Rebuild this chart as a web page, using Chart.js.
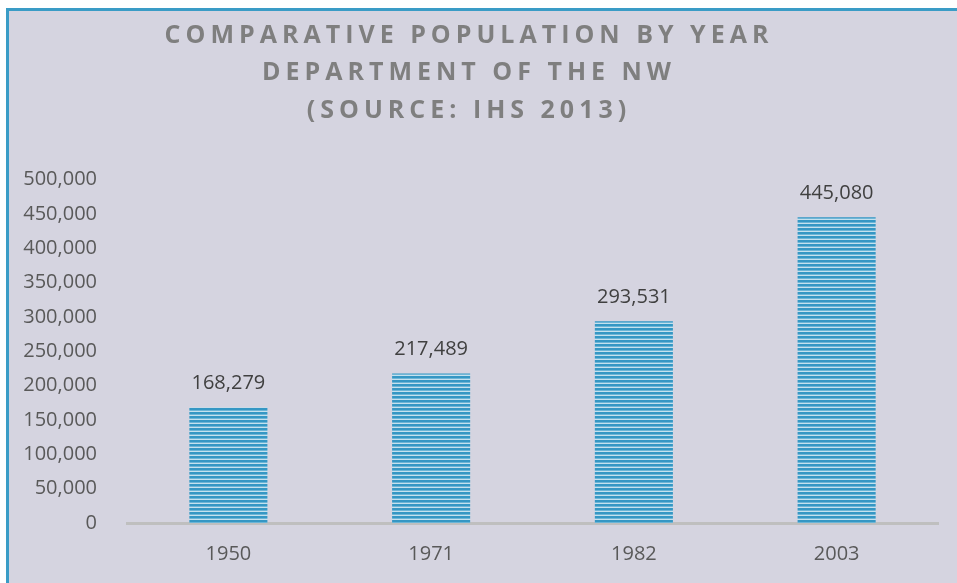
<!DOCTYPE html>
<html>
<head>
<meta charset="utf-8">
<script src="https://cdn.jsdelivr.net/npm/chart.js"></script>
<style>
    body { margin: 0; background: #fff; overflow: hidden; }
    .frame {
        position: absolute; left: 6px; top: 8px; width: 960px; height: 590px;
        background: #d5d4e0;
        border-left: 3px solid #3a9cc6;
        border-top: 3px solid #3a9cc6;
    }
    #popChart { position: absolute; left: 0; top: 0; }
</style>
</head>
<body>
<div class="frame"></div>
<canvas id="popChart" width="957" height="583"></canvas>
<script>
const years = ['1950', '1971', '1982', '2003'];
const population = [168279, 217489, 293531, 445080];
const titleLines = ['COMPARATIVE POPULATION BY YEAR', 'DEPARTMENT OF THE NW', '(SOURCE: IHS 2013)'];

// horizontal stripe fill like the original
function stripePattern(ctx) {
    const c = document.createElement('canvas');
    c.width = 4;
    c.height = 4;
    const p = c.getContext('2d');
    p.fillStyle = '#3597c4';
    p.fillRect(0, 0, 4, 2);
    p.fillStyle = '#6cb5d6';
    p.fillRect(0, 2, 4, 1);
    p.fillStyle = '#c4e1ee';
    p.fillRect(0, 3, 4, 1);
    return ctx.createPattern(c, 'repeat');
}

const spacedTitle = {
    id: 'spacedTitle',
    beforeDraw(chart) {
        const t = chart.titleBlock;
        if (t && !t._spaced) {
            const orig = t.draw.bind(t);
            t.draw = function () {
                chart.ctx.save();
                chart.ctx.letterSpacing = '5px';
                orig();
                chart.ctx.restore();
            };
            t._spaced = true;
        }
    }
};

const valueLabels = {
    id: 'valueLabels',
    afterDatasetsDraw(chart) {
        const ctx = chart.ctx;
        const meta = chart.getDatasetMeta(0);
        ctx.save();
        ctx.font = '20px "Open Sans"';
        ctx.fillStyle = '#404040';
        ctx.textAlign = 'center';
        ctx.textBaseline = 'middle';
        meta.data.forEach((bar, i) => {
            ctx.fillText(population[i].toLocaleString('en-US'), bar.x, bar.y - 24);
        });
        ctx.restore();
    }
};

document.addEventListener('DOMContentLoaded', () => {
    const ctx = document.getElementById('popChart').getContext('2d');

    new Chart(ctx, {
        type: 'bar',
        data: {
            labels: years,
            datasets: [{
                label: 'Population',
                data: population,
                backgroundColor: stripePattern(ctx),
                borderWidth: 0,
                barPercentage: 0.385,
                categoryPercentage: 1
            }]
        },
        options: {
            responsive: false,
            animation: false,
            layout: {
                padding: { left: 0, right: 19, top: 0, bottom: 6 }
            },
            plugins: {
                legend: { display: false },
                tooltip: { enabled: false },
                title: {
                    display: true,
                    text: titleLines,
                    color: '#7f7f7f',
                    font: { family: '"Open Sans"', size: 25, weight: 'bold', lineHeight: 1.5 },
                    padding: { top: 17, bottom: 50 }
                }
            },
            scales: {
                x: {
                    grid: { display: false },
                    border: { display: true, color: '#bfbfbf', width: 3 },
                    ticks: {
                        color: '#595959',
                        font: { family: '"Open Sans"', size: 20 },
                        padding: 11
                    }
                },
                y: {
                    min: 0,
                    max: 500000,
                    grid: { display: false },
                    border: { display: false },
                    afterFit(scale) { scale.width = 127; },
                    ticks: {
                        stepSize: 50000,
                        color: '#595959',
                        font: { family: '"Open Sans"', size: 20 },
                        padding: 22,
                        callback: (v) => v.toLocaleString('en-US')
                    }
                }
            }
        },
        plugins: [spacedTitle, valueLabels]
    });
});
</script>
</body>
</html>
